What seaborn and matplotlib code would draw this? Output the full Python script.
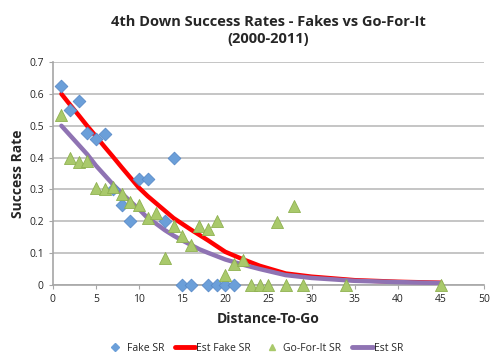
import pandas as pd
import seaborn as sns
import matplotlib.pyplot as plt
from matplotlib.lines import Line2D

# Fake punts/kicks success rate by distance
fake_dist = [1, 2, 3, 4, 5, 6, 7, 8, 9, 10, 11, 13, 14, 15, 16, 18, 19, 20, 21]
fake_sr = [0.625, 0.55, 0.577, 0.478, 0.457, 0.473, 0.30, 0.25, 0.20, 0.333,
           0.333, 0.20, 0.40, 0, 0, 0, 0, 0, 0]

# Go-for-it success rate by distance
go_dist = [1, 2, 3, 4, 5, 6, 7, 8, 9, 10, 11, 12, 13, 14, 15, 16, 17, 18, 19,
           20, 21, 22, 23, 24, 25, 26, 27, 28, 29, 34, 45]
go_sr = [0.534, 0.40, 0.387, 0.389, 0.303, 0.30, 0.307, 0.286, 0.261, 0.251,
         0.211, 0.227, 0.084, 0.185, 0.155, 0.126, 0.186, 0.176, 0.202,
         0.031, 0.066, 0.078, 0, 0, 0, 0.199, 0, 0.249, 0, 0, 0]

# fitted curves
fit_dist = [1, 2, 3, 4, 5, 6, 7, 8, 9, 10, 11, 12, 13, 14, 15, 16, 17, 18,
            20, 22, 24, 27, 30, 35, 40, 45]
est_fake = [0.60, 0.566, 0.533, 0.499, 0.467, 0.434, 0.402, 0.369, 0.337,
            0.305, 0.279, 0.256, 0.233, 0.21, 0.192, 0.174, 0.157, 0.14,
            0.104, 0.081, 0.06, 0.036, 0.026, 0.015, 0.01, 0.007]
est_go = [0.50, 0.47, 0.44, 0.41, 0.375, 0.345, 0.315, 0.288, 0.262, 0.238,
          0.21, 0.192, 0.172, 0.155, 0.14, 0.126, 0.112, 0.101, 0.08, 0.064,
          0.05, 0.031, 0.022, 0.013, 0.009, 0.006]

fake = pd.DataFrame({"dist": fake_dist, "sr": fake_sr})
go = pd.DataFrame({"dist": go_dist, "sr": go_sr})
est = pd.DataFrame({"dist": fit_dist, "fake": est_fake, "go": est_go})

sns.set_style("white")
plt.rcParams["font.family"] = ["Open Sans", "DejaVu Sans"]

blue = "#6b9fd9"
green = "#a9c96b"
red = "#ff0000"
purple = "#8f73b3"

fig = plt.figure(figsize=(4.98, 3.63), dpi=100)
ax = fig.add_axes([0.106, 0.215, 0.866, 0.614])

sns.lineplot(data=est, x="dist", y="fake", color=red, linewidth=3.2, ax=ax, zorder=2)
sns.lineplot(data=est, x="dist", y="go", color=purple, linewidth=3.2, ax=ax, zorder=3)
sns.scatterplot(data=fake, x="dist", y="sr", marker="D", s=42, color=blue,
                edgecolor="#5a8bc8", linewidth=0.6, ax=ax, zorder=4, clip_on=False)
sns.scatterplot(data=go, x="dist", y="sr", marker="^", s=75, color=green,
                edgecolor="#8fb150", linewidth=0.6, ax=ax, zorder=4, clip_on=False)

ax.set_xlim(0, 50)
ax.set_ylim(0, 0.7)
ax.set_xticks(range(0, 51, 5))
ax.set_yticks([i / 10 for i in range(8)])
ax.set_yticklabels(["0", "0.1", "0.2", "0.3", "0.4", "0.5", "0.6", "0.7"])
ax.grid(axis="y", color="#c0c0c0", linewidth=1.3)
ax.set_axisbelow(True)
for s in ["top", "right"]:
    ax.spines[s].set_visible(False)
for s in ["left", "bottom"]:
    ax.spines[s].set_color("#a6a6a6")
    ax.spines[s].set_linewidth(1.2)
ax.tick_params(axis="both", labelsize=7.5, length=3, color="#a6a6a6",
               direction="out", left=True, bottom=True)

ax.set_xlabel("Distance-To-Go", fontsize=10, fontweight="bold", labelpad=5)
ax.set_ylabel("Success Rate", fontsize=10, fontweight="bold", labelpad=3)
ax.set_title("4th Down Success Rates - Fakes vs Go-For-It\n(2000-2011)",
             fontsize=10.5, fontweight="bold", pad=14)

handles = [
    Line2D([], [], marker="D", color=blue, linestyle="none", markersize=4),
    Line2D([], [], color=red, linewidth=3.5),
    Line2D([], [], marker="^", color=green, linestyle="none", markersize=5),
    Line2D([], [], color=purple, linewidth=3.5),
]
labels = ["Fake SR", "Est Fake SR", "Go-For-It SR", "Est SR"]
fig.legend(handles, labels, loc="lower center", bbox_to_anchor=(0.51, 0.0),
           ncol=4, frameon=False, fontsize=7.5, handlelength=2.0,
           handletextpad=0.1, columnspacing=1.0)

fig.savefig("out.png", dpi=100)
